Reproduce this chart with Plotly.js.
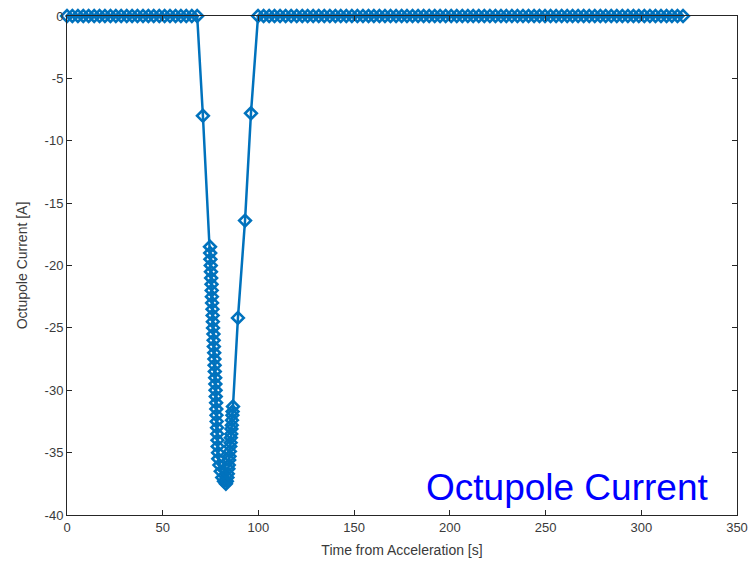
<!DOCTYPE html>
<html>
<head>
<meta charset="utf-8">
<script src="https://cdn.plot.ly/plotly-3.0.1.min.js"></script>
<style>html,body{margin:0;padding:0;background:#fff;}#chart{width:753px;height:569px;}</style>
</head>
<body>
<div id="chart"></div>
<script>
// Zero segment before the dip
const timeBefore = [0,2.8,5.7,8.5,11.3,14.2,17.0,19.8,22.7,25.5,28.3,31.2,34.0,36.8,39.7,42.5,45.3,48.2,51.0,53.8,56.7,59.5,62.3,65.2,68.0];
const currentBefore = [0,0,0,0,0,0,0,0,0,0,0,0,0,0,0,0,0,0,0,0,0,0,0,0,0];
// Dip: falling edge, dense descent, bottom, dense ascent, rising edge
const timeDip = [71.0,74.7,74.8,74.9,75.1,75.2,75.3,75.5,75.6,75.7,75.8,76.0,76.1,76.2,76.3,76.5,76.6,76.7,76.9,77.0,77.1,77.2,77.4,77.5,77.6,77.7,77.9,78.0,78.1,78.2,78.4,78.5,78.6,78.7,78.9,79.0,79.6,80.3,81.1,82.0,83.0,
  83.5,83.8,84.0,84.3,84.5,84.7,84.9,85.1,85.3,85.5,85.6,85.8,85.9,86.1,86.2,86.4,86.5,86.7,
  89.3,93.0,96.1];
const currentDip = [-8.0,-18.5,-19.0,-19.5,-20.0,-20.5,-21.0,-21.5,-22.0,-22.5,-23.0,-23.5,-24.0,-24.5,-25.0,-25.5,-26.0,-26.5,-27.0,-27.5,-28.0,-28.5,-29.0,-29.5,-30.0,-30.5,-31.0,-31.5,-32.0,-32.5,-33.0,-33.5,-34.0,-34.5,-35.0,-35.5,-36.0,-36.5,-37.0,-37.3,-37.5,
  -37.3,-37.0,-36.7,-36.3,-36.0,-35.6,-35.3,-34.9,-34.5,-34.2,-33.8,-33.5,-33.1,-32.8,-32.4,-32.0,-31.7,-31.3,
  -24.2,-16.4,-7.8];
// Zero segment after the dip
const timeAfter = [99.8,102.7,105.6,108.4,111.3,114.2,117.1,120.0,122.9,125.7,128.6,131.5,134.4,137.3,140.2,143.0,145.9,148.8,151.7,154.6,157.5,160.3,163.2,166.1,169.0,171.9,174.8,177.6,180.5,183.4,186.3,189.2,192.1,194.9,197.8,200.7,203.6,206.5,209.4,212.2,215.1,218.0,220.9,223.8,226.7,229.5,232.4,235.3,238.2,241.1,244.0,246.8,249.7,252.6,255.5,258.4,261.3,264.1,267.0,269.9,272.8,275.7,278.6,281.4,284.3,287.2,290.1,293.0,295.9,298.7,301.6,304.5,307.4,310.3,313.2,316.0,318.9,321.8];
const currentAfter = timeAfter.map(() => 0);

const xTicks = [0,50,100,150,200,250,300,350];
const yTicks = [0,-5,-10,-15,-20,-25,-30,-35,-40];

const time = timeBefore.concat(timeDip, timeAfter);
const current = currentBefore.concat(currentDip, currentAfter);

const lineColor = '#0072BD';
const axisColor = '#262626';
const textColor = '#3a3a3a';

const trace = {
  x: time, y: current, type: 'scatter', mode: 'lines+markers',
  line: {color: lineColor, width: 2.5},
  marker: {symbol: 'diamond-open', size: 9, color: lineColor, line: {color: lineColor, width: 2.6}},
  cliponaxis: false, showlegend: false
};

const axisCommon = {
  showline: true, linecolor: axisColor, linewidth: 1, mirror: 'ticks',
  ticks: 'inside', ticklen: 5, tickwidth: 1, tickcolor: axisColor,
  showgrid: false, zeroline: false,
  tickfont: {family: 'Liberation Sans, Arial, sans-serif', size: 13, color: textColor}
};

const layout = {
  width: 753, height: 569,
  margin: {l: 67, r: 16, t: 16, b: 54},
  paper_bgcolor: '#fff', plot_bgcolor: '#fff',
  xaxis: Object.assign({}, axisCommon, {
    range: [0, 350], tickvals: xTicks, ticktext: xTicks.map(String),
    title: {text: 'Time from Acceleration [s]', standoff: 11, font: {family: 'Liberation Sans, Arial, sans-serif', size: 14, color: textColor}}
  }),
  yaxis: Object.assign({}, axisCommon, {
    range: [-40, 0], tickvals: yTicks, ticktext: yTicks.map(String),
    title: {text: 'Octupole Current [A]', standoff: 13, font: {family: 'Liberation Sans, Arial, sans-serif', size: 14, color: textColor}}
  }),
  annotations: [{
    text: 'Octupole Current', xref: 'paper', yref: 'paper',
    x: 0.96, y: 0.056, xanchor: 'right', yanchor: 'middle', showarrow: false,
    font: {family: 'Liberation Sans, Arial, sans-serif', size: 37, color: '#0000FF'}
  }]
};

Plotly.newPlot('chart', [trace], layout, {displayModeBar: false, staticPlot: true});
</script>
</body>
</html>
